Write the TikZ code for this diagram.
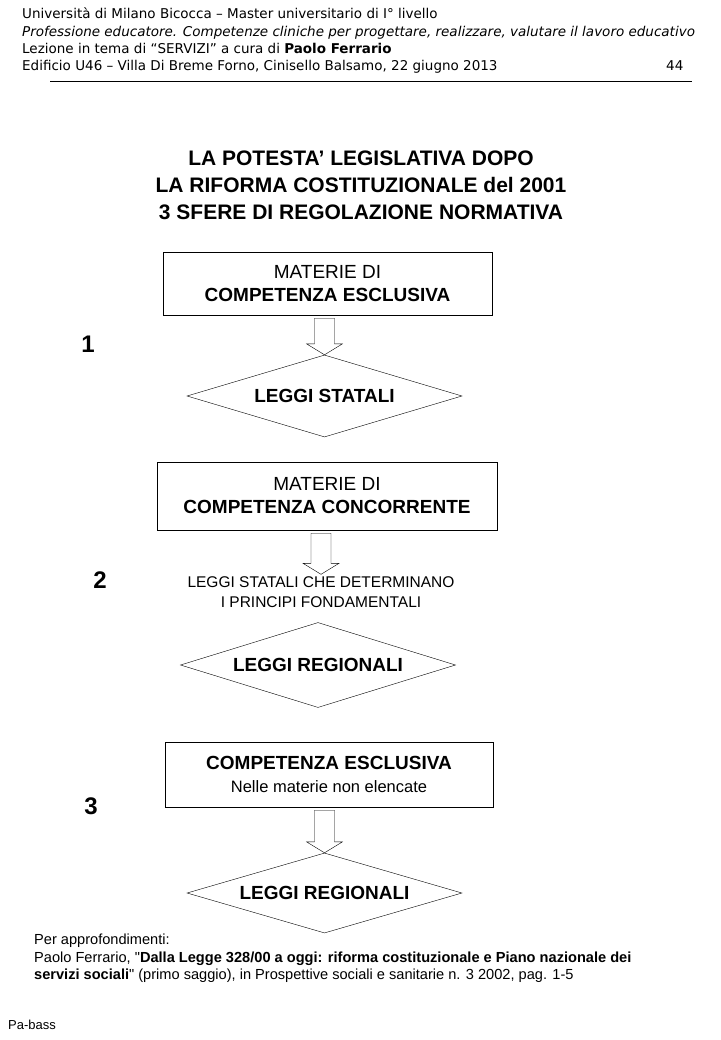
\documentclass[tikz,border=0pt]{standalone}
\usepackage{fontspec}
\setmainfont{Liberation Sans}[Ligatures=TeXOff]
\newfontfamily\headfont{DejaVu Sans}
\usetikzlibrary{shapes.geometric,calc}

\begin{document}
\begin{tikzpicture}[x=1pt,y=-1pt,
        box/.style={draw,align=center,inner sep=0pt,font=\fontsize{19}{23}\selectfont},
        rombo/.style={draw,diamond,minimum width=275pt,minimum height=82pt,aspect=3.35,inner sep=0pt,
            font=\fontsize{19}{23}\selectfont\bfseries},
        num/.style={font=\fontsize{24}{28}\selectfont\bfseries},
        head/.style={anchor=base west,inner sep=0pt,font=\headfont\fontsize{13.5}{15}\selectfont},
        freccia/.style={draw,line join=miter}]
    \useasboundingbox (0,0) rectangle (720,1040);
    % intestazione
    \node[head] (h1) at (22,19) {Università di Milano Bicocca – Master universitario di I° livello};
    \node[head] (h2) at (22,37) {\itshape Professione educatore. Competenze cliniche per progettare, realizzare, valutare il lavoro educativo};
    \node[head] (h3) at (22,54) {Lezione in tema di “SERVIZI” a cura di \textbf{Paolo Ferrario}};
    \node[head] (h4) at (22,71) {Edificio U46 – Villa Di Breme Forno, Cinisello Balsamo, 22 giugno 2013};
    \node[head] (pag) at (666,71) {44};
    \draw (50,81) -- (692,81);
    % titolo
    \node[align=center,font=\fontsize{21}{27}\selectfont\bfseries] (titolo) at (361,185)
        {LA POTESTA’ LEGISLATIVA DOPO\\LA RIFORMA COSTITUZIONALE del 2001\\3 SFERE DI REGOLAZIONE NORMATIVA};
    % sfera 1
    \node[box,minimum width=329pt,minimum height=63pt] (box1) at (327.5,283.5)
        {MATERIE DI\\\textbf{COMPETENZA ESCLUSIVA}};
    \node[rombo] (dia1) at (324.5,396) {LEGGI STATALI};
    \node[num] (n1) at (88,344) {1};
    % sfera 2
    \node[box,minimum width=340pt,minimum height=68pt] (box2) at (327,496)
        {MATERIE DI\\\textbf{COMPETENZA CONCORRENTE}};
    \node[align=center,inner sep=2pt,font=\fontsize{15.5}{20}\selectfont] (lab2) at (321,592)
        {LEGGI STATALI CHE DETERMINANO\\I PRINCIPI FONDAMENTALI};
    \node[rombo,minimum height=85pt,aspect=3.24] (dia2) at (318,665) {LEGGI REGIONALI};
    \node[num] (n2) at (100,580) {2};
    % sfera 3
    \node[box,minimum width=328pt,minimum height=65pt] (box3) at (329,774.5)
        {\textbf{COMPETENZA ESCLUSIVA}\\{\fontsize{16.5}{20}\selectfont Nelle materie non elencate}};
    \node[rombo,minimum height=80pt,aspect=3.44] (dia3) at (324.5,893) {LEGGI REGIONALI};
    \node[num] (n3) at (91,806) {3};
    % frecce
    \foreach \a/\b in {box1/dia1,box2/lab2,box3/dia3}
        \draw[freccia] let \p1=(\a.south), \p2=(\b.north) in
            (\x2-10pt,\y1-3pt) -- (\x2-10pt,\y2+11pt) -- (\x2-18pt,\y2+11pt) -- (\x2,\y2)
            -- (\x2+18pt,\y2+11pt) -- (\x2+10pt,\y2+11pt) -- (\x2+10pt,\y1-3pt) -- cycle;
    % bibliografia
    \node[anchor=north west,align=left,inner sep=0pt,font=\fontsize{14.6}{17.5}\selectfont] (biblio) at (34,934)
        {Per approfondimenti:\\
         Paolo Ferrario, "\textbf{Dalla Legge 328/00 a oggi: riforma costituzionale e Piano nazionale dei}\\
         \textbf{servizi sociali}" (primo saggio), in Prospettive sociali e sanitarie n. 3 2002, pag. 1-5};
    \node[anchor=west,inner sep=0pt,font=\fontsize{13}{15}\selectfont] (sigla) at (8,1025) {Pa-bass};
\end{tikzpicture}
\end{document}
